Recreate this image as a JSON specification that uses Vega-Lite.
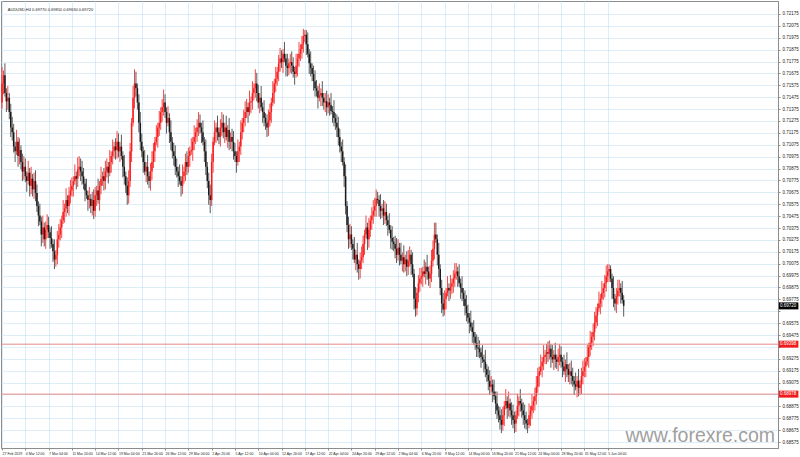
{
"$schema": "https://vega.github.io/schema/vega-lite/v6.json",
"width": 777, "height": 447,
"autosize": {"type": "none"},
"padding": {"left": 1, "top": 1, "right": 22, "bottom": 9},
"background": "white",
"config": {"view": {"stroke": "#8c8c8c", "strokeWidth": 1}, "axis": {"labelFont": "Liberation Sans", "labelColor": "#222222", "gridColor": "#bcdcf2", "gridDash": [1,1], "gridWidth": 1, "domainColor": "#8c8c8c", "tickColor": "#8c8c8c", "tickSize": 2}},
"data": {"values": "i,o,h,l,c\n0,0.7143,0.7173,0.7138,0.7159\n1,0.7159,0.7170,0.7150,0.7166\n2,0.7166,0.7176,0.7148,0.7151\n3,0.7151,0.7155,0.7135,0.7144\n4,0.7144,0.7157,0.7137,0.7147\n5,0.7147,0.7151,0.7129,0.7135\n6,0.7135,0.7142,0.7114,0.7122\n7,0.7122,0.7131,0.7111,0.7118\n8,0.7118,0.7125,0.7101,0.7106\n9,0.7106,0.7110,0.7093,0.7102\n10,0.7102,0.7120,0.7099,0.7110\n11,0.7110,0.7114,0.7089,0.7098\n12,0.7098,0.7113,0.7091,0.7103\n13,0.7103,0.7107,0.7087,0.7093\n14,0.7093,0.7100,0.7077,0.7085\n15,0.7085,0.7098,0.7078,0.7089\n16,0.7089,0.7096,0.7076,0.7081\n17,0.7081,0.7085,0.7068,0.7077\n18,0.7077,0.7094,0.7074,0.7084\n19,0.7084,0.7088,0.7064,0.7073\n20,0.7073,0.7089,0.7066,0.7079\n21,0.7079,0.7083,0.7064,0.7070\n22,0.7070,0.7084,0.7062,0.7077\n23,0.7077,0.7086,0.7060,0.7067\n24,0.7067,0.7074,0.7051,0.7056\n25,0.7056,0.7060,0.7039,0.7048\n26,0.7048,0.7058,0.7040,0.7043\n27,0.7043,0.7047,0.7022,0.7032\n28,0.7032,0.7048,0.7025,0.7038\n29,0.7038,0.7042,0.7022,0.7028\n30,0.7028,0.7043,0.7020,0.7036\n31,0.7036,0.7049,0.7029,0.7040\n32,0.7040,0.7047,0.7029,0.7034\n33,0.7034,0.7038,0.7020,0.7029\n34,0.7029,0.7039,0.7021,0.7024\n35,0.7024,0.7028,0.7009,0.7018\n36,0.7018,0.7028,0.7003,0.7011\n37,0.7011,0.7019,0.7005,0.7015\n38,0.7015,0.7035,0.7007,0.7028\n39,0.7028,0.7041,0.7021,0.7032\n40,0.7032,0.7045,0.7027,0.7038\n41,0.7038,0.7048,0.7029,0.7044\n42,0.7044,0.7061,0.7041,0.7051\n43,0.7051,0.7058,0.7042,0.7054\n44,0.7054,0.7071,0.7047,0.7061\n45,0.7061,0.7065,0.7050,0.7056\n46,0.7056,0.7072,0.7048,0.7065\n47,0.7065,0.7078,0.7058,0.7069\n48,0.7069,0.7080,0.7064,0.7073\n49,0.7073,0.7081,0.7064,0.7077\n50,0.7077,0.7091,0.7074,0.7081\n51,0.7081,0.7085,0.7070,0.7079\n52,0.7079,0.7097,0.7072,0.7087\n53,0.7087,0.7098,0.7081,0.7089\n54,0.7089,0.7096,0.7077,0.7085\n55,0.7085,0.7094,0.7074,0.7081\n56,0.7081,0.7088,0.7070,0.7075\n57,0.7075,0.7079,0.7060,0.7069\n58,0.7069,0.7079,0.7062,0.7065\n59,0.7065,0.7069,0.7052,0.7061\n60,0.7061,0.7072,0.7054,0.7062\n61,0.7062,0.7066,0.7050,0.7056\n62,0.7056,0.7068,0.7048,0.7061\n63,0.7061,0.7070,0.7045,0.7052\n64,0.7052,0.7072,0.7047,0.7065\n65,0.7065,0.7073,0.7056,0.7069\n66,0.7069,0.7079,0.7058,0.7061\n67,0.7061,0.7077,0.7052,0.7073\n68,0.7073,0.7089,0.7066,0.7079\n69,0.7079,0.7085,0.7073,0.7081\n70,0.7081,0.7088,0.7069,0.7077\n71,0.7077,0.7094,0.7070,0.7085\n72,0.7085,0.7096,0.7080,0.7089\n73,0.7089,0.7093,0.7075,0.7084\n74,0.7084,0.7103,0.7081,0.7093\n75,0.7093,0.7102,0.7084,0.7098\n76,0.7098,0.7112,0.7091,0.7102\n77,0.7102,0.7110,0.7096,0.7106\n78,0.7106,0.7113,0.7095,0.7103\n79,0.7103,0.7119,0.7096,0.7110\n80,0.7110,0.7117,0.7097,0.7102\n81,0.7102,0.7110,0.7093,0.7106\n82,0.7106,0.7116,0.7095,0.7098\n83,0.7098,0.7102,0.7080,0.7089\n84,0.7089,0.7099,0.7074,0.7081\n85,0.7081,0.7085,0.7067,0.7073\n86,0.7073,0.7080,0.7057,0.7065\n87,0.7065,0.7086,0.7058,0.7077\n88,0.7077,0.7109,0.7072,0.7102\n89,0.7102,0.7130,0.7093,0.7126\n90,0.7126,0.7157,0.7123,0.7147\n91,0.7147,0.7171,0.7138,0.7159\n92,0.7159,0.7169,0.7148,0.7155\n93,0.7155,0.7159,0.7137,0.7143\n94,0.7143,0.7150,0.7118,0.7126\n95,0.7126,0.7135,0.7103,0.7110\n96,0.7110,0.7117,0.7097,0.7102\n97,0.7102,0.7106,0.7084,0.7093\n98,0.7093,0.7103,0.7082,0.7085\n99,0.7085,0.7093,0.7076,0.7089\n100,0.7089,0.7099,0.7074,0.7081\n101,0.7081,0.7085,0.7071,0.7077\n102,0.7077,0.7092,0.7069,0.7085\n103,0.7085,0.7102,0.7078,0.7093\n104,0.7093,0.7109,0.7088,0.7102\n105,0.7102,0.7114,0.7093,0.7110\n106,0.7110,0.7124,0.7107,0.7114\n107,0.7114,0.7126,0.7105,0.7122\n108,0.7122,0.7136,0.7115,0.7126\n109,0.7126,0.7139,0.7120,0.7135\n110,0.7135,0.7146,0.7127,0.7139\n111,0.7139,0.7154,0.7132,0.7143\n112,0.7143,0.7150,0.7130,0.7135\n113,0.7135,0.7139,0.7117,0.7126\n114,0.7126,0.7140,0.7123,0.7130\n115,0.7130,0.7134,0.7109,0.7118\n116,0.7118,0.7128,0.7103,0.7110\n117,0.7110,0.7114,0.7096,0.7102\n118,0.7102,0.7109,0.7090,0.7098\n119,0.7098,0.7107,0.7082,0.7089\n120,0.7089,0.7096,0.7080,0.7085\n121,0.7085,0.7089,0.7072,0.7081\n122,0.7081,0.7091,0.7074,0.7077\n123,0.7077,0.7081,0.7064,0.7073\n124,0.7073,0.7091,0.7066,0.7081\n125,0.7081,0.7089,0.7075,0.7085\n126,0.7085,0.7100,0.7077,0.7093\n127,0.7093,0.7102,0.7082,0.7089\n128,0.7089,0.7105,0.7084,0.7098\n129,0.7098,0.7106,0.7089,0.7102\n130,0.7102,0.7113,0.7099,0.7103\n131,0.7103,0.7114,0.7094,0.7110\n132,0.7110,0.7124,0.7103,0.7114\n133,0.7114,0.7122,0.7108,0.7118\n134,0.7118,0.7129,0.7110,0.7122\n135,0.7122,0.7135,0.7115,0.7126\n136,0.7126,0.7133,0.7117,0.7122\n137,0.7122,0.7126,0.7109,0.7118\n138,0.7118,0.7128,0.7107,0.7110\n139,0.7110,0.7114,0.7093,0.7102\n140,0.7102,0.7112,0.7082,0.7089\n141,0.7089,0.7093,0.7071,0.7077\n142,0.7077,0.7084,0.7057,0.7065\n143,0.7065,0.7074,0.7050,0.7061\n144,0.7061,0.7100,0.7056,0.7093\n145,0.7093,0.7114,0.7084,0.7110\n146,0.7110,0.7128,0.7107,0.7118\n147,0.7118,0.7126,0.7109,0.7122\n148,0.7122,0.7132,0.7111,0.7118\n149,0.7118,0.7122,0.7108,0.7114\n150,0.7114,0.7129,0.7106,0.7122\n151,0.7122,0.7135,0.7115,0.7126\n152,0.7126,0.7133,0.7113,0.7118\n153,0.7118,0.7126,0.7109,0.7122\n154,0.7122,0.7132,0.7111,0.7114\n155,0.7114,0.7124,0.7105,0.7120\n156,0.7120,0.7130,0.7103,0.7110\n157,0.7110,0.7118,0.7104,0.7114\n158,0.7114,0.7121,0.7102,0.7110\n159,0.7110,0.7119,0.7095,0.7102\n160,0.7102,0.7109,0.7093,0.7098\n161,0.7098,0.7102,0.7084,0.7093\n162,0.7093,0.7112,0.7090,0.7102\n163,0.7102,0.7110,0.7093,0.7106\n164,0.7106,0.7128,0.7099,0.7118\n165,0.7118,0.7130,0.7112,0.7126\n166,0.7126,0.7137,0.7118,0.7130\n167,0.7130,0.7144,0.7123,0.7135\n168,0.7135,0.7146,0.7130,0.7139\n169,0.7139,0.7143,0.7126,0.7135\n170,0.7135,0.7153,0.7132,0.7143\n171,0.7143,0.7148,0.7134,0.7144\n172,0.7144,0.7161,0.7137,0.7151\n173,0.7151,0.7159,0.7145,0.7155\n174,0.7155,0.7171,0.7147,0.7159\n175,0.7159,0.7168,0.7144,0.7151\n176,0.7151,0.7158,0.7138,0.7143\n177,0.7143,0.7151,0.7134,0.7147\n178,0.7147,0.7157,0.7136,0.7139\n179,0.7139,0.7143,0.7126,0.7135\n180,0.7135,0.7145,0.7123,0.7130\n181,0.7130,0.7134,0.7120,0.7126\n182,0.7126,0.7133,0.7114,0.7122\n183,0.7122,0.7137,0.7115,0.7128\n184,0.7128,0.7142,0.7123,0.7135\n185,0.7135,0.7147,0.7126,0.7143\n186,0.7143,0.7161,0.7140,0.7151\n187,0.7151,0.7163,0.7142,0.7159\n188,0.7159,0.7173,0.7152,0.7163\n189,0.7163,0.7173,0.7157,0.7169\n190,0.7169,0.7183,0.7161,0.7176\n191,0.7176,0.7189,0.7169,0.7180\n192,0.7180,0.7187,0.7172,0.7177\n193,0.7177,0.7188,0.7168,0.7184\n194,0.7184,0.7194,0.7177,0.7180\n195,0.7180,0.7184,0.7165,0.7174\n196,0.7174,0.7184,0.7165,0.7172\n197,0.7172,0.7180,0.7166,0.7176\n198,0.7176,0.7184,0.7168,0.7177\n199,0.7177,0.7186,0.7167,0.7174\n200,0.7174,0.7181,0.7164,0.7169\n201,0.7169,0.7173,0.7158,0.7167\n202,0.7167,0.7184,0.7164,0.7174\n203,0.7174,0.7184,0.7165,0.7180\n204,0.7180,0.7194,0.7173,0.7184\n205,0.7184,0.7192,0.7178,0.7188\n206,0.7188,0.7199,0.7180,0.7192\n207,0.7192,0.7205,0.7185,0.7199\n208,0.7199,0.7204,0.7194,0.7200\n209,0.7200,0.7204,0.7183,0.7192\n210,0.7192,0.7202,0.7181,0.7184\n211,0.7184,0.7188,0.7167,0.7176\n212,0.7176,0.7186,0.7165,0.7172\n213,0.7172,0.7176,0.7161,0.7167\n214,0.7167,0.7174,0.7153,0.7161\n215,0.7161,0.7170,0.7148,0.7155\n216,0.7155,0.7162,0.7148,0.7153\n217,0.7153,0.7157,0.7138,0.7147\n218,0.7147,0.7159,0.7144,0.7149\n219,0.7149,0.7155,0.7140,0.7151\n220,0.7151,0.7161,0.7140,0.7147\n221,0.7147,0.7151,0.7137,0.7143\n222,0.7143,0.7151,0.7135,0.7144\n223,0.7144,0.7153,0.7132,0.7139\n224,0.7139,0.7150,0.7134,0.7143\n225,0.7143,0.7147,0.7132,0.7141\n226,0.7141,0.7151,0.7133,0.7136\n227,0.7136,0.7140,0.7126,0.7135\n228,0.7135,0.7145,0.7123,0.7130\n229,0.7130,0.7134,0.7120,0.7126\n230,0.7126,0.7133,0.7114,0.7122\n231,0.7122,0.7131,0.7107,0.7114\n232,0.7114,0.7121,0.7101,0.7106\n233,0.7106,0.7110,0.7093,0.7102\n234,0.7102,0.7112,0.7090,0.7093\n235,0.7093,0.7097,0.7072,0.7081\n236,0.7081,0.7091,0.7049,0.7056\n237,0.7056,0.7060,0.7034,0.7040\n238,0.7040,0.7047,0.7020,0.7028\n239,0.7028,0.7041,0.7021,0.7032\n240,0.7032,0.7039,0.7019,0.7024\n241,0.7024,0.7028,0.7011,0.7020\n242,0.7020,0.7030,0.7008,0.7011\n243,0.7011,0.7019,0.7002,0.7015\n244,0.7015,0.7025,0.7000,0.7007\n245,0.7007,0.7011,0.6994,0.7003\n246,0.7003,0.7017,0.6995,0.7010\n247,0.7010,0.7022,0.7003,0.7013\n248,0.7013,0.7031,0.7008,0.7024\n249,0.7024,0.7036,0.7015,0.7032\n250,0.7032,0.7048,0.7029,0.7038\n251,0.7038,0.7042,0.7019,0.7028\n252,0.7028,0.7046,0.7021,0.7036\n253,0.7036,0.7048,0.7030,0.7044\n254,0.7044,0.7055,0.7036,0.7048\n255,0.7048,0.7061,0.7041,0.7052\n256,0.7052,0.7063,0.7047,0.7056\n257,0.7056,0.7070,0.7047,0.7062\n258,0.7062,0.7068,0.7058,0.7061\n259,0.7061,0.7065,0.7047,0.7056\n260,0.7056,0.7066,0.7045,0.7052\n261,0.7052,0.7058,0.7046,0.7054\n262,0.7054,0.7061,0.7040,0.7048\n263,0.7048,0.7060,0.7041,0.7051\n264,0.7051,0.7058,0.7039,0.7044\n265,0.7044,0.7048,0.7031,0.7040\n266,0.7040,0.7050,0.7033,0.7036\n267,0.7036,0.7040,0.7020,0.7029\n268,0.7029,0.7039,0.7019,0.7026\n269,0.7026,0.7030,0.7018,0.7024\n270,0.7024,0.7031,0.7012,0.7020\n271,0.7020,0.7029,0.7008,0.7015\n272,0.7015,0.7028,0.7010,0.7021\n273,0.7021,0.7025,0.7006,0.7015\n274,0.7015,0.7025,0.7007,0.7010\n275,0.7010,0.7017,0.7001,0.7013\n276,0.7013,0.7023,0.7000,0.7007\n277,0.7007,0.7015,0.7001,0.7011\n278,0.7011,0.7018,0.6997,0.7005\n279,0.7005,0.7019,0.6998,0.7010\n280,0.7010,0.7022,0.7005,0.7015\n281,0.7015,0.7019,0.6998,0.7007\n282,0.7007,0.7017,0.6996,0.6999\n283,0.6999,0.7003,0.6969,0.6978\n284,0.6978,0.6988,0.6963,0.6970\n285,0.6970,0.6987,0.6964,0.6983\n286,0.6983,0.6998,0.6975,0.6991\n287,0.6991,0.7004,0.6984,0.6995\n288,0.6995,0.7004,0.6990,0.6997\n289,0.6997,0.7005,0.6988,0.7001\n290,0.7001,0.7011,0.6996,0.6999\n291,0.6999,0.7009,0.6990,0.7005\n292,0.7005,0.7015,0.6994,0.7001\n293,0.7001,0.7005,0.6989,0.6995\n294,0.6995,0.7006,0.6987,0.6999\n295,0.6999,0.7019,0.6992,0.7010\n296,0.7010,0.7027,0.7005,0.7020\n297,0.7020,0.7042,0.7011,0.7032\n298,0.7032,0.7042,0.7025,0.7028\n299,0.7028,0.7032,0.7006,0.7015\n300,0.7015,0.7025,0.6996,0.7003\n301,0.7003,0.7007,0.6981,0.6987\n302,0.6987,0.6994,0.6966,0.6974\n303,0.6974,0.6983,0.6963,0.6969\n304,0.6969,0.6985,0.6964,0.6978\n305,0.6978,0.6987,0.6969,0.6983\n306,0.6983,0.6997,0.6980,0.6987\n307,0.6987,0.6991,0.6976,0.6985\n308,0.6985,0.6998,0.6978,0.6988\n309,0.6988,0.6995,0.6982,0.6991\n310,0.6991,0.7002,0.6983,0.6995\n311,0.6995,0.7008,0.6988,0.6999\n312,0.6999,0.7008,0.6994,0.7001\n313,0.7001,0.7005,0.6988,0.6997\n314,0.6997,0.7007,0.6988,0.6991\n315,0.6991,0.6995,0.6978,0.6987\n316,0.6987,0.6997,0.6976,0.6983\n317,0.6983,0.6987,0.6972,0.6978\n318,0.6978,0.6985,0.6964,0.6972\n319,0.6972,0.6981,0.6959,0.6966\n320,0.6966,0.6973,0.6957,0.6962\n321,0.6962,0.6966,0.6949,0.6958\n322,0.6958,0.6968,0.6951,0.6954\n323,0.6954,0.6958,0.6941,0.6950\n324,0.6950,0.6960,0.6939,0.6946\n325,0.6946,0.6950,0.6935,0.6941\n326,0.6941,0.6948,0.6929,0.6937\n327,0.6937,0.6946,0.6929,0.6936\n328,0.6936,0.6943,0.6928,0.6933\n329,0.6933,0.6937,0.6920,0.6929\n330,0.6929,0.6939,0.6924,0.6927\n331,0.6927,0.6931,0.6916,0.6925\n332,0.6925,0.6935,0.6912,0.6919\n333,0.6919,0.6923,0.6908,0.6914\n334,0.6914,0.6921,0.6901,0.6909\n335,0.6909,0.6918,0.6897,0.6904\n336,0.6904,0.6913,0.6899,0.6906\n337,0.6906,0.6910,0.6891,0.6900\n338,0.6900,0.6910,0.6893,0.6896\n339,0.6896,0.6900,0.6881,0.6890\n340,0.6890,0.6900,0.6877,0.6884\n341,0.6884,0.6888,0.6874,0.6880\n342,0.6880,0.6887,0.6868,0.6876\n343,0.6876,0.6885,0.6865,0.6872\n344,0.6872,0.6887,0.6867,0.6880\n345,0.6880,0.6892,0.6871,0.6888\n346,0.6888,0.6902,0.6885,0.6892\n347,0.6892,0.6896,0.6877,0.6886\n348,0.6886,0.6900,0.6879,0.6890\n349,0.6890,0.6894,0.6878,0.6884\n350,0.6884,0.6891,0.6872,0.6880\n351,0.6880,0.6889,0.6869,0.6876\n352,0.6876,0.6883,0.6865,0.6873\n353,0.6873,0.6884,0.6866,0.6880\n354,0.6880,0.6898,0.6877,0.6888\n355,0.6888,0.6896,0.6879,0.6892\n356,0.6892,0.6902,0.6883,0.6890\n357,0.6890,0.6894,0.6878,0.6884\n358,0.6884,0.6891,0.6872,0.6880\n359,0.6880,0.6889,0.6869,0.6876\n360,0.6876,0.6883,0.6868,0.6873\n361,0.6873,0.6877,0.6865,0.6872\n362,0.6872,0.6890,0.6869,0.6880\n363,0.6880,0.6888,0.6871,0.6884\n364,0.6884,0.6898,0.6877,0.6888\n365,0.6888,0.6896,0.6882,0.6892\n366,0.6892,0.6903,0.6884,0.6896\n367,0.6896,0.6913,0.6889,0.6904\n368,0.6904,0.6920,0.6899,0.6913\n369,0.6913,0.6921,0.6904,0.6917\n370,0.6917,0.6931,0.6914,0.6921\n371,0.6921,0.6929,0.6912,0.6925\n372,0.6925,0.6939,0.6918,0.6929\n373,0.6929,0.6935,0.6923,0.6931\n374,0.6931,0.6940,0.6923,0.6933\n375,0.6933,0.6942,0.6925,0.6932\n376,0.6932,0.6943,0.6927,0.6936\n377,0.6936,0.6940,0.6920,0.6929\n378,0.6929,0.6939,0.6924,0.6927\n379,0.6927,0.6935,0.6918,0.6931\n380,0.6931,0.6941,0.6920,0.6927\n381,0.6927,0.6931,0.6919,0.6925\n382,0.6925,0.6936,0.6917,0.6929\n383,0.6929,0.6940,0.6922,0.6931\n384,0.6931,0.6938,0.6920,0.6925\n385,0.6925,0.6929,0.6912,0.6921\n386,0.6921,0.6931,0.6914,0.6917\n387,0.6917,0.6927,0.6908,0.6923\n388,0.6923,0.6933,0.6912,0.6919\n389,0.6919,0.6923,0.6908,0.6914\n390,0.6914,0.6924,0.6906,0.6917\n391,0.6917,0.6926,0.6906,0.6913\n392,0.6913,0.6920,0.6904,0.6909\n393,0.6909,0.6913,0.6897,0.6906\n394,0.6906,0.6916,0.6901,0.6904\n395,0.6904,0.6913,0.6895,0.6909\n396,0.6909,0.6919,0.6896,0.6903\n397,0.6903,0.6910,0.6897,0.6906\n398,0.6906,0.6920,0.6898,0.6913\n399,0.6913,0.6926,0.6906,0.6917\n400,0.6917,0.6928,0.6912,0.6921\n401,0.6921,0.6929,0.6912,0.6925\n402,0.6925,0.6939,0.6922,0.6929\n403,0.6929,0.6941,0.6920,0.6937\n404,0.6937,0.6951,0.6930,0.6941\n405,0.6941,0.6950,0.6935,0.6946\n406,0.6946,0.6957,0.6938,0.6950\n407,0.6950,0.6967,0.6943,0.6958\n408,0.6958,0.6971,0.6953,0.6964\n409,0.6964,0.6974,0.6955,0.6970\n410,0.6970,0.6984,0.6967,0.6974\n411,0.6974,0.6982,0.6965,0.6978\n412,0.6978,0.6993,0.6971,0.6983\n413,0.6983,0.6991,0.6977,0.6987\n414,0.6987,0.6998,0.6979,0.6991\n415,0.6991,0.7006,0.6984,0.6997\n416,0.6997,0.7007,0.6992,0.7001\n417,0.7001,0.7007,0.6992,0.7003\n418,0.7003,0.7006,0.6992,0.6995\n419,0.6995,0.6999,0.6978,0.6987\n420,0.6987,0.6997,0.6971,0.6978\n421,0.6978,0.6982,0.6968,0.6974\n422,0.6974,0.6987,0.6966,0.6980\n423,0.6980,0.6994,0.6973,0.6985\n424,0.6985,0.6994,0.6980,0.6987\n425,0.6987,0.6991,0.6974,0.6983\n426,0.6983,0.6993,0.6974,0.6977\n427,0.6977,0.6981,0.6963,0.6972", "format": {"type": "csv", "parse": {"i": "number", "o": "number", "h": "number", "l": "number", "c": "number"}}},
"layer": [
{"mark": {"type": "rule", "strokeWidth": 1},
 "encoding": {
  "x": {"field": "i", "type": "quantitative", "title": null, "scale": {"domain": [-0.7, 533], "nice": false, "zero": false},
   "axis": {"orient": "bottom", "tickCount": 200, "values": [0,16,32,48,64,80,96,112,128,144,160,176,192,208,224,240,256,272,288,304,320,336,352,368,384,400,416], "labelExpr": "['27 Feb 2019','4 Mar 12:00','7 Mar 04:00','11 Mar 20:00','14 Mar 12:00','19 Mar 04:00','21 Mar 20:00','26 Mar 12:00','29 Mar 04:00','2 Apr 20:00','5 Apr 12:00','10 Apr 04:00','12 Apr 20:00','17 Apr 12:00','22 Apr 04:00','24 Apr 20:00','29 Apr 12:00','2 May 04:00','6 May 20:00','9 May 12:00','14 May 04:00','16 May 20:00','21 May 12:00','24 May 04:00','28 May 20:00','31 May 12:00','5 Jun 04:00'][round(datum.value/16)]", "labelAlign": "left", "labelFontSize": 3.5, "labelPadding": 1.5, "labelBound": false, "labelFlush": false, "labelOverlap": false, "grid": true, "title": null}},
  "y": {"field": "l", "type": "quantitative", "title": null, "scale": {"domain": [0.68567, 0.72242], "nice": false, "zero": false},
   "axis": {"orient": "right", "tickCount": 200, "values": [0.72175,0.72075,0.71975,0.71875,0.71775,0.71675,0.71575,0.71475,0.71375,0.71275,0.71175,0.71075,0.70975,0.70875,0.70775,0.70675,0.70575,0.70475,0.70375,0.70275,0.70175,0.70075,0.69975,0.69875,0.69775,0.69675,0.69575,0.69475,0.69375,0.69275,0.69175,0.69075,0.68975,0.68875,0.68775,0.68675,0.68575], "labelExpr": "(abs(datum.value-0.69675)<0.00001 || abs(datum.value-0.69375)<0.00001 || abs(datum.value-0.68975)<0.00001) ? '' : format(datum.value, '.5f')", "labelFontSize": 4.5, "labelPadding": 2, "labelOverlap": false, "labelFlush": false, "labelBound": false, "grid": true, "title": null}},
  "y2": {"field": "h"},
  "color": {"condition": {"test": "datum.c >= datum.o", "value": "#f04848"}, "value": "#5a5a5a"}
 }},
{"mark": {"type": "rule", "strokeWidth": 1.5},
 "encoding": {
  "x": {"field": "i", "type": "quantitative", "title": null},
  "y": {"field": "o", "type": "quantitative", "title": null},
  "y2": {"field": "c"},
  "color": {"condition": {"test": "datum.c >= datum.o", "value": "#ff1a1a"}, "value": "#1a1a1a"}
 }},
{"data": {"values": [{"price": 0.69398}, {"price": 0.68978}]},
 "mark": {"type": "rule", "color": "#e58a8a", "strokeWidth": 1},
 "encoding": {"y": {"field": "price", "type": "quantitative", "title": null}}},
{"data": {"values": [{"price": 0.6972, "label": "0.69720", "box": "#000000"}, {"price": 0.69398, "label": "0.69398", "box": "#ee1c1c"}, {"price": 0.68978, "label": "0.68978", "box": "#ee1c1c"}]},
 "mark": {"type": "bar", "orient": "horizontal", "size": 7, "clip": false},
 "encoding": {"x": {"datum": 533.6}, "x2": {"datum": 547}, "y": {"field": "price", "type": "quantitative", "title": null}, "color": {"field": "box", "type": "nominal", "scale": null}}},
{"data": {"values": [{"price": 0.6972, "label": "0.69720"}, {"price": 0.69398, "label": "0.69398"}, {"price": 0.68978, "label": "0.68978"}]},
 "mark": {"type": "text", "align": "left", "baseline": "middle", "fontSize": 4.5, "font": "Liberation Sans", "color": "#ffffff", "clip": false},
 "encoding": {"x": {"datum": 534.4}, "y": {"field": "price", "type": "quantitative", "title": null}, "text": {"field": "label"}}},
{"data": {"values": [{"t": "AUDUSD,H4  0.69770 0.69810 0.69630 0.69720"}]},
 "mark": {"type": "text", "align": "left", "baseline": "middle", "fontSize": 4, "font": "Liberation Sans", "color": "#222222"},
 "encoding": {"x": {"datum": 4}, "y": {"datum": 0.7221}, "text": {"field": "t"}}},
{"data": {"values": [{"t": "www.forexre.com"}]},
 "mark": {"type": "text", "align": "right", "baseline": "alphabetic", "fontSize": 19.5, "font": "Liberation Sans", "color": "#a0a0a0"},
 "encoding": {"x": {"datum": 531}, "y": {"datum": 0.68576}, "text": {"field": "t"}}}
]
}
